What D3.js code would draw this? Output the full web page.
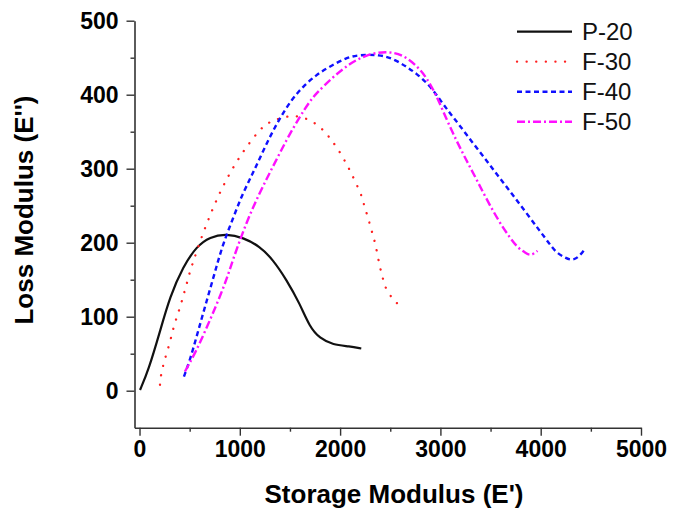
<!DOCTYPE html>
<html>
<head>
<meta charset="utf-8">
<script src="https://cdn.jsdelivr.net/npm/d3@7"></script>
<style>
  body { margin: 0; background: #fff; }
  svg { display: block; font-family: Arial, "Liberation Sans", sans-serif; }
</style>
</head>
<body>
<div id="chart"></div>
<script>
// series: [storage modulus E', loss modulus E'']
const p20 = [[5,1],[90,28],[204,80],[303,127],[436,168],[569,195],[701,208],[868,212],[1033,207],
  [1199,195],[1331,177],[1465,150],[1597,118],[1697,86],[1796,71],[1928,62],[2095,60],[2211,57]];
const f30 = [[204,8],[212,20],[231,32],[264,48],[303,65],[330,81],[363,96],[403,112],[436,128],[470,144],
  [502,161],[545,178],[619,208],[711,240],[808,270],[923,300],[1057,328],[1209,355],[1305,364],[1421,369],
  [1530,372],[1647,369],[1763,361],[1856,349],[1929,336],[1995,323],[2062,307],[2111,294],[2167,278],
  [2217,263],[2244,248],[2284,232],[2316,215],[2353,199],[2393,168],[2426,153],[2443,141],[2500,129],
  [2552,118],[2585,118],[2602,124]];
const f40 = [[443,19],[502,41],[569,73],[635,105],[701,136],[768,168],[834,199],[933,233],[1017,263],
  [1116,290],[1199,314],[1299,343],[1398,368],[1514,393],[1630,411],[1763,427],[1896,438],[2062,450],
  [2194,454],[2393,454],[2525,449],[2660,438],[2758,429],[2891,413],[3007,391],[3090,376],[3189,359],
  [3322,335],[3455,312],[3587,288],[3720,265],[3852,241],[3985,217],[4085,199],[4151,187],
  [4251,179],[4317,176],[4383,181],[4443,192]];
const f50 = [[453,26],[560,52],[669,85],[768,116],[868,150],[933,178],[1067,228],[1199,268],[1331,303],
  [1465,339],[1597,370],[1697,391],[1763,402],[1929,424],[2095,442],[2261,454],[2458,459],[2625,454],
  [2758,440],[2858,424],[2957,400],[3057,368],[3156,339],[3256,312],[3355,287],[3471,256],[3587,228],
  [3687,208],[3770,193],[3853,186],[3902,182],[3968,189]];

const seriesNames = ['P-20', 'F-30', 'F-40', 'F-50'];
const xTicks = [0, 1000, 2000, 3000, 4000, 5000];
const xMinor = [500, 1500, 2500, 3500, 4500];
const yTicks = [0, 100, 200, 300, 400, 500];
const yMinor = [50, 150, 250, 350, 450];

const width = 674, height = 521;

const svg = d3.select('#chart')
    .append('svg')
    .attr('width', width)
    .attr('height', height);

svg.append('rect').attr('width', width).attr('height', height).attr('fill', '#fff');

const x = d3.scaleLinear().domain([-50, 5000]).range([134.5, 641]);
const y = d3.scaleLinear().domain([-50, 500]).range([427.7, 20.7]);

// axes
svg.append('g')
    .attr('transform', `translate(0,${y(-50)})`)
    .call(d3.axisBottom(x).tickValues(xTicks).tickFormat(d3.format('d')).tickSize(8).tickSizeOuter(0).tickPadding(5));
svg.append('g')
    .attr('transform', `translate(0,${y(-50)})`)
    .call(d3.axisBottom(x).tickValues(xMinor).tickSize(4).tickFormat(''))
    .select('.domain').remove();

svg.append('g')
    .attr('transform', `translate(${x(-50)},0)`)
    .call(d3.axisLeft(y).tickValues(yTicks).tickFormat(d3.format('d')).tickSize(8).tickSizeOuter(0).tickPadding(8));
svg.append('g')
    .attr('transform', `translate(${x(-50)},0)`)
    .call(d3.axisLeft(y).tickValues(yMinor).tickSize(4).tickFormat(''))
    .select('.domain').remove();

svg.selectAll('.domain').attr('stroke', '#333').attr('stroke-width', 1.6);
svg.selectAll('.tick line').attr('stroke', '#333').attr('stroke-width', 1.4);
svg.selectAll('.tick text')
    .attr('font-family', 'Arial, "Liberation Sans", sans-serif')
    .attr('font-size', '23px')
    .attr('font-weight', 'bold')
    .attr('fill', '#000');

// axis titles
svg.append('text')
    .attr('x', 394)
    .attr('y', 503)
    .attr('text-anchor', 'middle')
    .attr('font-size', '26px')
    .attr('font-weight', 'bold')
    .text("Storage Modulus (E')");

svg.append('text')
    .attr('transform', 'translate(33,210) rotate(-90)')
    .attr('text-anchor', 'middle')
    .attr('font-size', '26px')
    .attr('font-weight', 'bold')
    .text("Loss Modulus (E'')");

// lines
const line = d3.line()
    .x(d => x(d[0]))
    .y(d => y(d[1]))
    .curve(d3.curveBasis);

const styles = [
    { data: p20, color: '#111', dash: null, width: 2.2, cap: 'butt' },
    { data: f30, color: '#ff2020', dash: '0.1 9.5', width: 2.3, cap: 'round' },
    { data: f40, color: '#1010ff', dash: '5 3.5', width: 2.4, cap: 'butt' },
    { data: f50, color: '#ff10ff', dash: '8 3 2 3', width: 2.4, cap: 'butt' }
];

styles.forEach(s => {
    svg.append('path')
        .datum(s.data)
        .attr('fill', 'none')
        .attr('stroke', s.color)
        .attr('stroke-width', s.width)
        .attr('stroke-dasharray', s.dash)
        .attr('stroke-linecap', s.cap)
        .attr('stroke-linejoin', 'round')
        .attr('d', line);
});

// legend
const legend = svg.append('g');
seriesNames.forEach((name, i) => {
    const s = styles[i];
    const cy = 31.7 + i * 30;
    legend.append('line')
        .attr('x1', 517).attr('x2', 572)
        .attr('y1', cy).attr('y2', cy)
        .attr('stroke', s.color)
        .attr('stroke-width', s.width)
        .attr('stroke-dasharray', s.dash)
        .attr('stroke-linecap', s.cap);
    legend.append('text')
        .attr('x', 582)
        .attr('y', cy + 8.5)
        .attr('font-size', '24px')
        .attr('fill', '#111')
        .text(name);
});
</script>
</body>
</html>
